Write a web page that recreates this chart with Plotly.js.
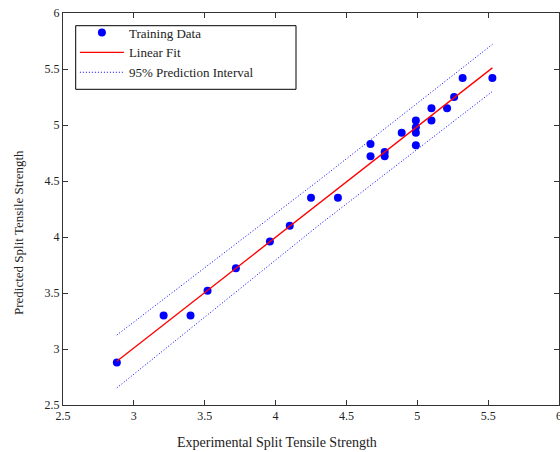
<!DOCTYPE html>
<html>
<head>
<meta charset="utf-8">
<script src="https://cdn.plot.ly/plotly-3.0.1.min.js"></script>
<style>html,body{margin:0;padding:0;background:#fff;}#chart{width:560px;height:452px;}</style>
</head>
<body>
<div id="chart"></div>
<script>
// Training data (experimental vs predicted split tensile strength)
const expX = [2.88, 3.21, 3.40, 3.52, 3.72, 3.96, 4.10, 4.25, 4.44, 4.67, 4.67, 4.77, 4.77, 4.89,
              4.99, 4.99, 4.99, 4.99, 5.10, 5.10, 5.21, 5.26, 5.32, 5.53];
const predY = [2.88, 3.30, 3.30, 3.52, 3.72, 3.96, 4.10, 4.35, 4.35, 4.83, 4.72, 4.76, 4.72, 4.93,
               5.04, 4.98, 4.93, 4.82, 5.15, 5.04, 5.15, 5.25, 5.42, 5.42];
// Linear fit endpoints
const fitX = [2.88, 5.53];
const fitY = [2.89, 5.51];
// 95% prediction interval
const piX = [2.88, 4.31, 5.53];
const piUpper = [3.125, 4.51, 5.72];
const piLower = [2.653, 4.11, 5.30];
// Axis ticks
const tickVals = [2.5, 3, 3.5, 4, 4.5, 5, 5.5, 6];
const tickText = ['2.5', '3', '3.5', '4', '4.5', '5', '5.5', '6'];

const serif = 'Liberation Serif, Times New Roman, serif';

const traces = [
  {x: expX, y: predY, type: 'scatter', mode: 'markers', name: 'Training Data',
   marker: {color: '#0000ff', size: 8, line: {width: 0}}},
  {x: fitX, y: fitY, type: 'scatter', mode: 'lines', name: 'Linear Fit',
   line: {color: '#ff0000', width: 1.3}},
  {x: piX, y: piUpper, type: 'scatter', mode: 'lines', name: '95% Prediction Interval',
   line: {color: '#0000ff', width: 1, dash: '1px,2px'}},
  {x: piX, y: piLower, type: 'scatter', mode: 'lines', name: '95% Prediction Interval',
   showlegend: false, line: {color: '#0000ff', width: 1, dash: '1px,2px'}}
];

const axisCommon = {
  showgrid: false, zeroline: false, showline: true, linecolor: '#333', linewidth: 1,
  mirror: 'ticks', ticks: 'inside', ticklen: 5, tickwidth: 1, tickcolor: '#333',
  tickmode: 'array', tickvals: tickVals, ticktext: tickText,
  ticklabeloverflow: 'allow',
  tickfont: {family: serif, size: 12, color: '#222'}
};

const layout = {
  width: 560, height: 452,
  margin: {l: 63, r: 1, t: 13, b: 47},
  paper_bgcolor: '#fff', plot_bgcolor: '#fff',
  font: {family: serif, size: 13, color: '#222'},
  xaxis: Object.assign({}, axisCommon, {range: [2.5, 6]}),
  yaxis: Object.assign({}, axisCommon, {range: [2.5, 6]}),
  showlegend: true,
  legend: {x: 0.024, y: 0.9885, xanchor: 'left', yanchor: 'top',
           bgcolor: 'rgba(0,0,0,0)', borderwidth: 0,
           font: {family: serif, size: 13, color: '#222'}, itemwidth: 44},
  shapes: [
    {type: 'rect', xref: 'paper', yref: 'paper', layer: 'above',
     x0: (75.7 - 63) / 496, x1: (296 - 63) / 496,
     y0: (405 - 89.3) / 392, y1: (405 - 25.7) / 392,
     line: {color: '#000', width: 1}, fillcolor: 'rgba(0,0,0,0)'}
  ],
  annotations: [
    {text: 'Experimental Split Tensile Strength', xref: 'paper', yref: 'paper',
     x: (277 - 63) / 496, y: -(442 - 405) / 392, xanchor: 'center', yanchor: 'middle',
     showarrow: false, font: {family: serif, size: 14, color: '#222'}},
    {text: 'Predicted Split Tensile Strength', xref: 'paper', yref: 'paper',
     x: -(63 - 18) / 496, y: (405 - 233) / 392, xanchor: 'center', yanchor: 'middle',
     textangle: -90, showarrow: false, font: {family: serif, size: 13, color: '#222'}}
  ]
};

Plotly.newPlot('chart', traces, layout, {displayModeBar: false, staticPlot: true});
</script>
</body>
</html>
